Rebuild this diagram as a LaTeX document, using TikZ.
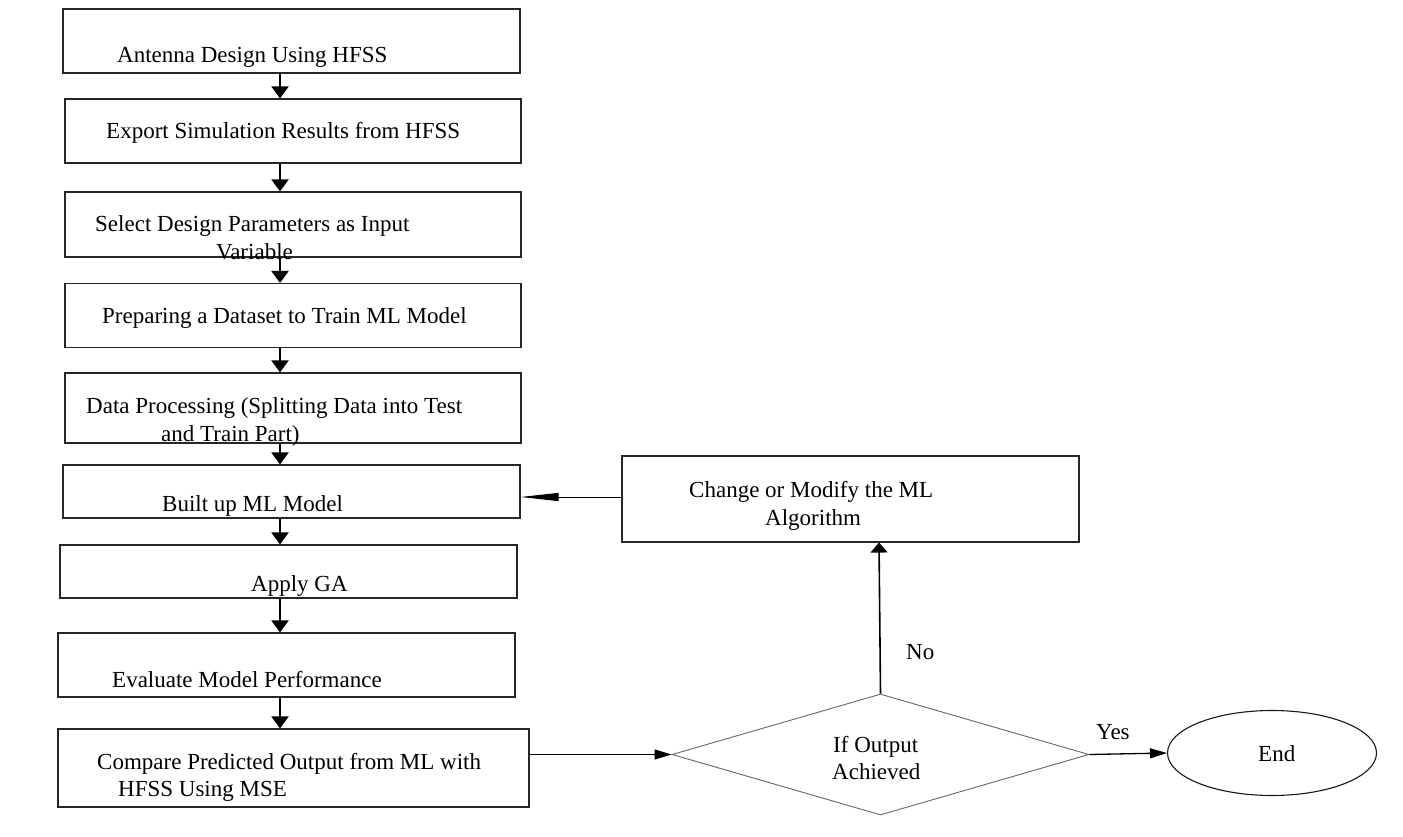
\documentclass[tikz,border=0pt]{standalone}
\usepackage{fontspec}
\setmainfont{Liberation Serif}
\usetikzlibrary{arrows.meta,shapes.geometric}
\begin{document}
\begin{tikzpicture}[x=1pt,y=-1pt,
  box/.style={draw=black!85,line width=1.1pt,inner sep=0pt,rectangle},
  txt/.style={anchor=base west,inner sep=0pt,font=\fontsize{23}{27}\selectfont},
  down/.style={line width=2pt,-{Triangle[width=17pt,length=12pt]}},
  back/.style={line width=1pt,-{Triangle[width=8pt,length=38pt]}},
  uparr/.style={line width=1.6pt,-{Triangle[width=17pt,length=10pt]}},
  rarr/.style={line width=1.3pt,-{Triangle[width=10pt,length=17pt]}}]
\useasboundingbox (0,0) rectangle (1403,837);
\fill[white] (0,0) rectangle (1403,837);
% boxes
\node[box,minimum width=457pt,minimum height=64pt] (b1) at (291.5,41) {};
\node[box,minimum width=456pt,minimum height=64pt] (b2) at (293,131) {};
\node[box,minimum width=456pt,minimum height=65pt] (b3) at (293,224.5) {};
\node[box,minimum width=456pt,minimum height=64pt] (b4) at (293,315.5) {};
\node[box,minimum width=456pt,minimum height=70pt] (b5) at (293,408) {};
\node[box,minimum width=457pt,minimum height=53pt] (b6) at (291.5,491.5) {};
\node[box,minimum width=457pt,minimum height=53pt] (b7) at (288.5,571.5) {};
\node[box,minimum width=457pt,minimum height=64pt] (b8) at (286.5,665) {};
\node[box,minimum width=471pt,minimum height=78pt] (b9) at (293.5,768) {};
\node[box,minimum width=457pt,minimum height=86pt] (ch) at (850.5,499) {};
\node[draw=black!60,line width=0.9pt,shape=diamond,inner sep=0pt,minimum width=417pt,minimum height=121pt] (dm) at (880.5,754.5) {};
\node[draw=black!90,line width=1.1pt,shape=ellipse,inner sep=0pt,minimum width=209pt,minimum height=85pt] (en) at (1272,753) {};
% texts
\node[txt] (t1) at (117,63) {Antenna Design Using HFSS};
\node[txt] (t2) at (106,139) {Export Simulation Results from HFSS};
\node[txt] (t3a) at (95,232) {Select Design Parameters as Input};
\node[txt] (t3b) at (216,259) {Variable};
\node[txt] (t4) at (102,323) {Preparing a Dataset to Train ML Model};
\node[txt] (t5a) at (86,413) {Data Processing (Splitting Data into Test};
\node[txt] (t5b) at (161,441) {and Train Part)};
\node[txt] (t6) at (162,511) {Built up ML Model};
\node[txt] (t7) at (251,591) {Apply GA};
\node[txt] (t8) at (112,687) {Evaluate Model Performance};
\node[txt] (t9a) at (97,769) {Compare Predicted Output from ML with};
\node[txt] (t9b) at (118,796) {HFSS Using MSE};
\node[txt] (tca) at (689,497) {Change or Modify the ML};
\node[txt] (tcb) at (765,525) {Algorithm};
\node[txt] (tda) at (833,752) {If Output};
\node[txt] (tdb) at (832,779) {Achieved};
\node[txt] (te) at (1258,761) {End};
\node[txt] (tno) at (906,659) {No};
\node[txt] (tyes) at (1096,739) {Yes};
% connectors
\coordinate (ax) at (280,0);
\draw[down] (b1.south -| ax) -- (b2.north -| ax);
\draw[down] (b2.south -| ax) -- (b3.north -| ax);
\draw[down] (b3.south -| ax) -- (b4.north -| ax);
\draw[down] (b4.south -| ax) -- (b5.north -| ax);
\draw[down] (b5.south -| ax) -- (b6.north -| ax);
\draw[down] (b6.south -| ax) -- (b7.north -| ax);
\draw[down] (b7.south -| ax) -- (b8.north -| ax);
\draw[down] (b8.south -| ax) -- (b9.north -| ax);
\coordinate (cy) at (0,497);
\draw[back] (ch.west |- cy) -- (b6.east |- cy);
\coordinate (ux) at (879,0);
\draw[uparr] (dm.north) -- (ch.south -| ux);
\draw[rarr] (b9.east |- dm.west) -- (dm.west);
\draw[rarr] (dm.east) -- (en.west);
\end{tikzpicture}
\end{document}
